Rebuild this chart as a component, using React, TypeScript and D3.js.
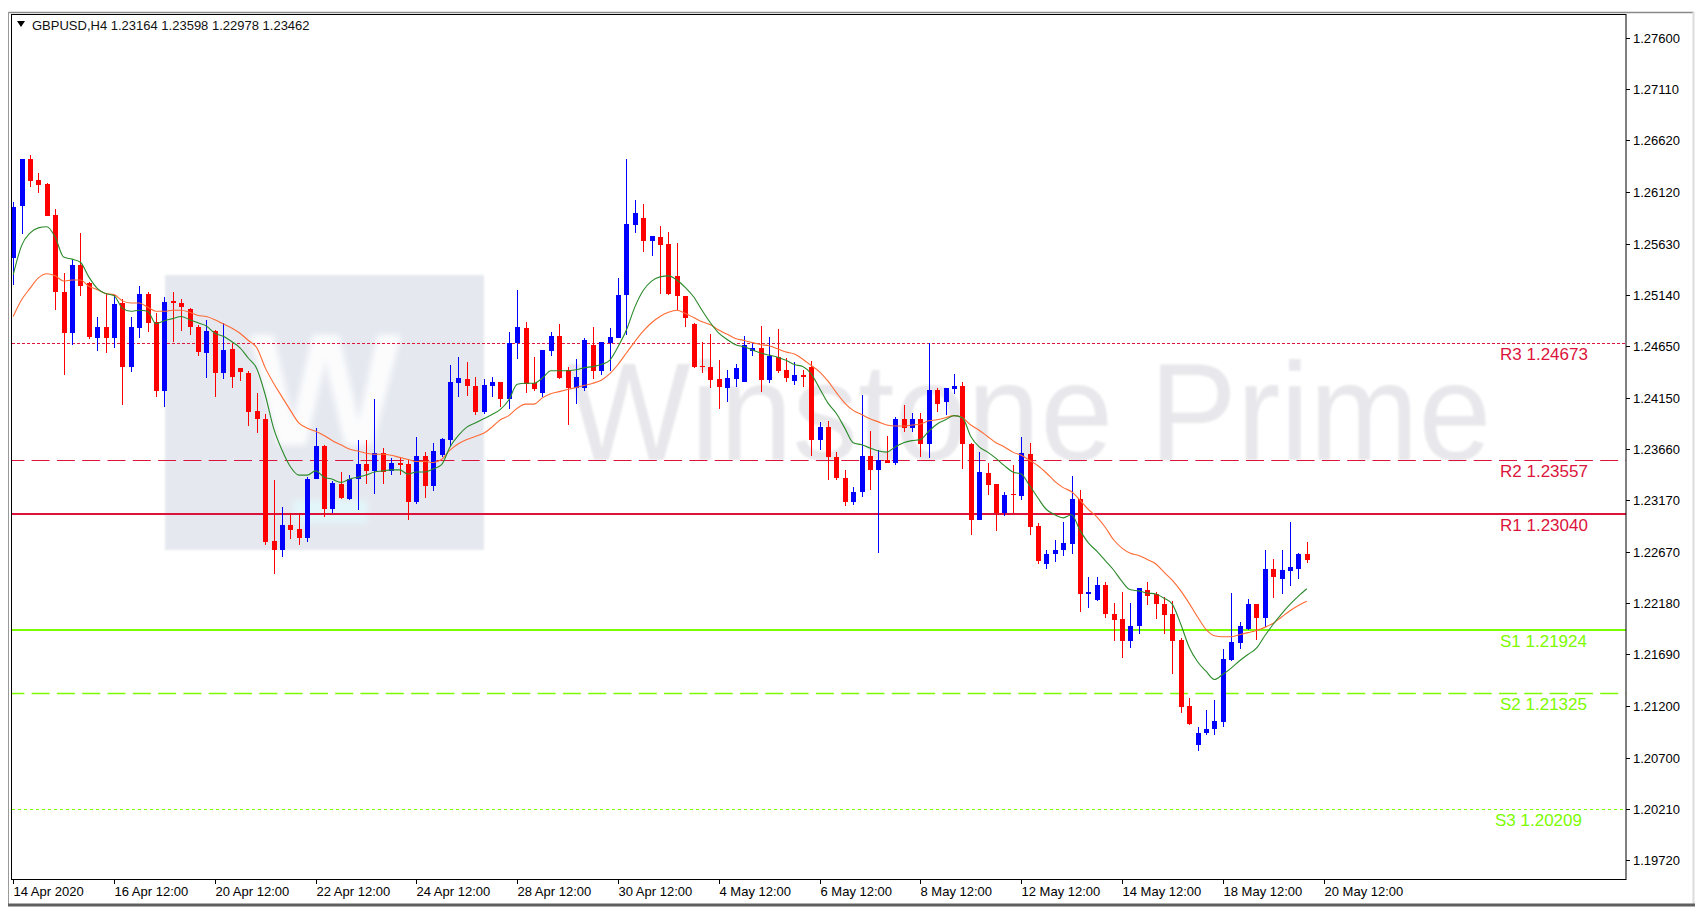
import React from 'react';
import * as d3 from 'd3';

// ---- data (GBPUSD H4) ----
const barOpen = [
1.25487,1.25988,1.26436,1.26238,1.26199,1.25902,1.25167,1.24768,1.25423,1.25247,
1.24720,1.24825,1.24720,1.25055,1.24447,1.24821,1.25142,1.24879,1.24217,1.25080,
1.25061,1.25001,1.24831,1.24582,1.24793,1.24384,1.24614,1.24432,1.24390,1.24025,
1.23943,1.22779,1.22690,1.22929,1.22891,1.22811,1.23377,1.23687,1.23089,1.23329,
1.23185,1.23377,1.23514,1.23447,1.23617,1.23450,1.23527,1.23514,1.23153,1.23594,
1.23303,1.23607,1.23744,1.24294,1.24329,1.24262,1.24016,1.24262,1.24304,1.24144,
1.24678,1.24816,1.24294,1.24198,1.24601,1.24745,1.24416,1.24240,1.24240,1.24655,
1.24409,1.24678,1.24720,1.25135,1.25806,1.25876,1.25656,1.25694,1.25624,1.25317,
1.25125,1.24857,1.24454,1.24447,1.24327,1.24240,1.24327,1.24304,1.24601,1.24624,
1.24320,1.24543,1.24422,1.24313,1.24368,1.24447,1.23744,1.23872,1.23584,1.23383,
1.23153,1.23243,1.23591,1.23457,1.23559,1.23521,1.23943,1.23857,1.23943,1.23706,
1.24224,1.24112,1.24231,1.24262,1.23706,1.22984,1.23431,1.23322,1.23047,1.23227,
1.23207,1.23610,1.22920,1.22555,1.22658,1.22690,1.22754,1.23176,1.22268,1.22210,
1.22354,1.22083,1.22035,1.21820,1.21961,1.22313,1.22268,1.22172,1.22076,1.21826,
1.21193,1.20819,1.20941,1.20976,1.21043,1.21641,1.21801,1.21939,1.22178,1.22040,
1.22507,1.22418,1.22491,1.22514,1.22658];

const barHigh = [
1.26030,1.26436,1.26478,1.26308,1.26206,1.25957,1.25349,1.25471,1.25732,1.25263,
1.24921,1.25145,1.25135,1.25094,1.24927,1.25221,1.25167,1.24960,1.25119,1.25167,
1.25094,1.25007,1.24847,1.24895,1.24799,1.24869,1.24665,1.24438,1.24406,1.24195,
1.23991,1.23361,1.23102,1.23042,1.23042,1.23392,1.23866,1.23696,1.23354,1.23440,
1.23409,1.23751,1.23751,1.24144,1.23665,1.23569,1.23584,1.23553,1.23776,1.23632,
1.23719,1.23770,1.24464,1.24545,1.24495,1.24349,1.24332,1.24351,1.24304,1.24783,
1.25183,1.24879,1.24538,1.24608,1.24777,1.24857,1.24447,1.24518,1.24720,1.24825,
1.24687,1.24816,1.25295,1.26436,1.26046,1.26008,1.25701,1.25797,1.25742,1.25631,
1.25125,1.24869,1.24687,1.24761,1.24512,1.24422,1.24473,1.24742,1.24687,1.24838,
1.24735,1.24806,1.24528,1.24495,1.24416,1.24505,1.23920,1.23933,1.23632,1.23462,
1.23297,1.24176,1.23834,1.23649,1.23783,1.23968,1.24080,1.24001,1.24001,1.24672,
1.24240,1.24240,1.24377,1.24304,1.23719,1.23632,1.23521,1.23322,1.23249,1.23505,
1.23776,1.23719,1.22946,1.22696,1.22785,1.22961,1.23404,1.23265,1.22433,1.22433,
1.22386,1.22184,1.22290,1.22184,1.22328,1.22386,1.22290,1.22242,1.22203,1.21852,
1.21277,1.20995,1.21155,1.21258,1.21747,1.22280,1.22002,1.22226,1.22178,1.22690,
1.22610,1.22696,1.22961,1.22667,1.22769];

const barLow = [
1.25231,1.25717,1.26174,1.26110,1.25890,1.24991,1.24368,1.24655,1.25128,1.24713,
1.24601,1.24576,1.24633,1.24080,1.24399,1.24720,1.24783,1.24160,1.24064,1.24687,
1.24793,1.24751,1.24550,1.24336,1.24160,1.24327,1.24240,1.24313,1.23882,1.23814,
1.22737,1.22466,1.22622,1.22802,1.22737,1.22769,1.23368,1.23009,1.23047,1.23185,
1.23169,1.23073,1.23329,1.23233,1.23329,1.23409,1.23409,1.22984,1.23137,1.23195,
1.23255,1.23584,1.23680,1.24154,1.24166,1.23989,1.23994,1.24160,1.24064,1.24039,
1.24518,1.24198,1.24217,1.24160,1.24550,1.24327,1.23888,1.24090,1.24217,1.24327,
1.24368,1.24409,1.24720,1.24751,1.25732,1.25544,1.25509,1.25145,1.25135,1.24991,
1.24825,1.24432,1.24390,1.24240,1.24048,1.24112,1.24250,1.24304,1.24550,1.24208,
1.24294,1.24390,1.24304,1.24272,1.24250,1.23591,1.23649,1.23361,1.23361,1.23109,
1.23121,1.23201,1.23265,1.22664,1.23521,1.23505,1.23824,1.23824,1.23584,1.23569,
1.24016,1.23984,1.24186,1.23473,1.22833,1.22984,1.23217,1.22875,1.23016,1.23047,
1.23169,1.22833,1.22555,1.22514,1.22577,1.22632,1.22658,1.22098,1.22140,1.22203,
1.22044,1.21820,1.21661,1.21756,1.21884,1.22162,1.22035,1.21884,1.21507,1.21129,
1.21011,1.20765,1.20915,1.20915,1.20995,1.21628,1.21747,1.21929,1.21833,1.21954,
1.22236,1.22268,1.22344,1.22409,1.22568];

const barClose = [
1.25982,1.26436,1.26231,1.26190,1.25895,1.25167,1.24768,1.25423,1.25224,1.24729,
1.24825,1.24720,1.25049,1.24447,1.24825,1.25142,1.24869,1.24217,1.25065,1.25055,
1.25023,1.24825,1.24591,1.24793,1.24384,1.24608,1.24351,1.24394,1.24016,1.23943,
1.22769,1.22690,1.22929,1.22881,1.22811,1.23377,1.23687,1.23089,1.23335,1.23195,
1.23377,1.23514,1.23447,1.23617,1.23444,1.23521,1.23511,1.23153,1.23594,1.23303,
1.23642,1.23754,1.24304,1.24336,1.24262,1.24016,1.24275,1.24304,1.24144,1.24678,
1.24828,1.24281,1.24231,1.24608,1.24745,1.24336,1.24240,1.24346,1.24703,1.24409,
1.24687,1.24729,1.25135,1.25813,1.25919,1.25656,1.25701,1.25614,1.25145,1.25125,
1.24912,1.24442,1.24442,1.24320,1.24250,1.24336,1.24438,1.24655,1.24624,1.24320,
1.24550,1.24409,1.24336,1.24368,1.24351,1.23744,1.23872,1.23584,1.23383,1.23153,
1.23249,1.23591,1.23457,1.23559,1.23527,1.23943,1.23857,1.23943,1.23706,1.24224,
1.24096,1.24240,1.24262,1.23706,1.22984,1.23440,1.23313,1.23047,1.23217,1.23217,
1.23617,1.22913,1.22587,1.22658,1.22696,1.22760,1.23176,1.22268,1.22290,1.22354,
1.22083,1.22025,1.21820,1.21961,1.22328,1.22248,1.22172,1.22066,1.21820,1.21187,
1.21021,1.20937,1.20980,1.21050,1.21644,1.21810,1.21961,1.22178,1.22040,1.22507,
1.22433,1.22498,1.22529,1.22658,1.22600];

// moving averages
const maFast = [
1.2533,1.2561,1.2573,1.2578,1.2579,1.2569,1.2550,1.2548,1.2545,1.2531,
1.2520,1.2515,1.2513,1.2501,1.2498,1.2499,1.2498,1.2486,1.2489,1.2491,
1.2493,1.2490,1.2487,1.2484,1.2477,1.2474,1.2469,1.2463,1.2453,1.2443,
1.2418,1.2386,1.2365,1.2349,1.2341,1.2341,1.2345,1.2339,1.2337,1.2334,
1.2337,1.2339,1.2341,1.2344,1.2345,1.2346,1.2346,1.2342,1.2344,1.2344,
1.2347,1.2351,1.2368,1.2379,1.2387,1.2391,1.2395,1.2399,1.2404,1.2413,
1.2428,1.2429,1.2429,1.2434,1.2441,1.2441,1.2441,1.2442,1.2444,1.2445,
1.2447,1.2451,1.2464,1.2480,1.2502,1.2518,1.2527,1.2531,1.2532,1.2528,
1.2521,1.2512,1.2499,1.2487,1.2477,1.2471,1.2466,1.2464,1.2461,1.2458,
1.2456,1.2454,1.2451,1.2447,1.2445,1.2438,1.2424,1.2410,1.2400,1.2386,
1.2372,1.2370,1.2367,1.2364,1.2363,1.2368,1.2372,1.2374,1.2375,1.2383,
1.2390,1.2394,1.2398,1.2396,1.2378,1.2368,1.2363,1.2357,1.2350,1.2344,
1.2342,1.2331,1.2319,1.2308,1.2303,1.2300,1.2303,1.2288,1.2276,1.2268,
1.2259,1.2250,1.2239,1.2231,1.2230,1.2228,1.2227,1.2223,1.2217,1.2198,
1.2176,1.2162,1.2153,1.2145,1.2150,1.2156,1.2163,1.2169,1.2175,1.2187,
1.2198,1.2208,1.2217,1.2225,1.2232];

const maSlow = [
1.2493,1.2509,1.2520,1.2530,1.2534,1.2532,1.2527,1.2528,1.2528,1.2522,
1.2519,1.2515,1.2514,1.2508,1.2506,1.2506,1.2502,1.2498,1.2498,1.2499,
1.2499,1.2497,1.2494,1.2493,1.2490,1.2486,1.2482,1.2477,1.2470,1.2463,
1.2444,1.2429,1.2416,1.2403,1.2391,1.2386,1.2383,1.2379,1.2374,1.2370,
1.2366,1.2364,1.2362,1.2361,1.2361,1.2360,1.2358,1.2356,1.2354,1.2354,
1.2353,1.2356,1.2365,1.2371,1.2375,1.2378,1.2381,1.2387,1.2394,1.2398,
1.2405,1.2409,1.2409,1.2415,1.2419,1.2421,1.2423,1.2425,1.2427,1.2429,
1.2432,1.2438,1.2447,1.2458,1.2469,1.2479,1.2487,1.2493,1.2497,1.2499,
1.2496,1.2492,1.2488,1.2485,1.2480,1.2476,1.2472,1.2470,1.2468,1.2466,
1.2465,1.2462,1.2459,1.2457,1.2452,1.2446,1.2440,1.2431,1.2420,1.2410,
1.2403,1.2399,1.2395,1.2392,1.2389,1.2388,1.2388,1.2389,1.2390,1.2393,
1.2394,1.2396,1.2398,1.2396,1.2389,1.2384,1.2378,1.2372,1.2368,1.2363,
1.2360,1.2355,1.2350,1.2343,1.2335,1.2329,1.2325,1.2317,1.2308,1.2301,
1.2291,1.2279,1.2271,1.2266,1.2264,1.2260,1.2256,1.2248,1.2240,1.2230,
1.2218,1.2205,1.2193,1.2187,1.2186,1.2186,1.2188,1.2190,1.2192,1.2195,
1.2199,1.2205,1.2211,1.2216,1.2220];

const priceTicks = ['1.27600','1.27110','1.26620','1.26120','1.25630','1.25140','1.24650','1.24150',
  '1.23660','1.23170','1.22670','1.22180','1.21690','1.21200','1.20700','1.20210','1.19720'];

const timeLabels = ['14 Apr 2020','16 Apr 12:00','20 Apr 12:00','22 Apr 12:00','24 Apr 12:00','28 Apr 12:00',
  '30 Apr 12:00','4 May 12:00','6 May 12:00','8 May 12:00','12 May 12:00','14 May 12:00','18 May 12:00','20 May 12:00'];
const timeLabelBars = [0,12,24,36,48,60,72,84,96,108,120,132,144,156];

const levelNames = ['R3','R2','R1','S1','S2','S3'];
const levelValues = [1.24673,1.23557,1.23040,1.21924,1.21325,1.20209];

const titleText = 'GBPUSD,H4  1.23164 1.23598 1.22978 1.23462';
const watermarkText = 'Winstone Prime';

export default function App() {
  const W = 1705, H = 920;
  const pl = 12, pt = 15, pr = 1626, pb = 879;
  const x = d3.scaleLinear().domain([0, 156]).range([13.2, 13.2 + 8.4 * 156]);
  const y = d3.scaleLinear().domain([1.1972, 1.276]).range([860, 38]);

  const line = d3.line<number>().x((_, i) => x(i)).y(d => y(d)).curve(d3.curveMonotoneX);

  const RED = '#ff0000', BLUE = '#0000ff';
  const CRIMSON = '#dc143c', LGREEN = '#7cfc00';
  const levelStyle: Record<string, { color: string; dash?: string; w: number }> = {
    R3: { color: CRIMSON, dash: '3,2', w: 1 },
    R2: { color: CRIMSON, dash: '18,7.3', w: 1 },
    R1: { color: CRIMSON, w: 2 },
    S1: { color: LGREEN, w: 2 },
    S2: { color: LGREEN, dash: '18,7.3', w: 1.3 },
    S3: { color: LGREEN, dash: '3,3', w: 1 },
  };

  const font = '"Liberation Sans", Arial, sans-serif';

  return (
    <svg width={W} height={H} viewBox={`0 0 ${W} ${H}`}
      style={{ position: 'absolute', left: 0, top: 0, background: '#fff' }}
      fontFamily={font}>
      <defs>
        <clipPath id="plotClip">
          <rect x={pl} y={pt} width={pr - pl} height={pb - pt} />
        </clipPath>
        <filter id="blur1" x="-10%" y="-10%" width="120%" height="120%">
          <feGaussianBlur stdDeviation="1.2" />
        </filter>
        <filter id="blur3" x="-20%" y="-20%" width="140%" height="140%">
          <feGaussianBlur stdDeviation="3" />
        </filter>
      </defs>
      <rect x={0} y={0} width={W} height={H} fill="#fff" />

      {/* outer window frame */}
      <line x1={8.5} y1={12.5} x2={1694} y2={12.5} stroke="#8a8a8a" strokeWidth={1.5} />
      <line x1={8.5} y1={12} x2={8.5} y2={906} stroke="#9a9a9a" strokeWidth={1} />
      <line x1={1693.5} y1={12} x2={1693.5} y2={906} stroke="#dcdcdc" strokeWidth={2} />
      <line x1={8} y1={905} x2={1695} y2={905} stroke="#5e5e5e" strokeWidth={3} />

      <g clipPath="url(#plotClip)">
        {/* watermark */}
        <g filter="url(#blur1)">
          <rect x={165} y={275} width={319} height={275} fill="#e5e8ef" />
        </g>
        <text x={250} y={445} fontSize={160} fontWeight="bold" fill="#ffffff" opacity={0.9}
          filter="url(#blur3)" fontFamily={font}>W</text>
        <rect x={293} y={500} width={74} height={23} fill="#e3f6fa" filter="url(#blur3)" />
        <g transform="translate(567,460) scale(1,1.06)">
          <text x={0} y={0} fontSize={131} fill="#e8e8ec" filter="url(#blur1)">{watermarkText}</text>
        </g>

        {/* pivot levels */}
        {levelNames.map((n, k) => {
          const st = levelStyle[n];
          const yy = Math.round(y(levelValues[k])) + (st.w === 2 ? 0 : 0.5);
          return (
            <line key={n} x1={pl} x2={pr} y1={yy} y2={yy} stroke={st.color}
              strokeWidth={st.w} strokeDasharray={st.dash} strokeDashoffset={st.dash && st.dash.startsWith('18') ? 5.7 : 0} />
          );
        })}

        {/* candles */}
        {barOpen.map((o, i) => {
          const c = barClose[i], h = barHigh[i], l = barLow[i];
          const col = c >= o ? BLUE : RED;
          const cx = Math.round(x(i));
          const yTop = Math.round(y(Math.max(o, c)));
          const yBot = Math.round(y(Math.min(o, c)));
          const yh = Math.round(y(h)), yl = Math.round(y(l));
          return (
            <g key={i}>
              <rect x={cx} y={yh} width={1} height={Math.max(1, yl - yh)} fill={col} />
              <rect x={cx - 2} y={yTop} width={5} height={Math.max(1, yBot - yTop)} fill={col} />
            </g>
          );
        })}

        {/* moving averages */}
        <path d={line(maSlow) || ''} fill="none" stroke="#ff6a33" strokeWidth={1.1} />
        <path d={line(maFast) || ''} fill="none" stroke="#2a8a2a" strokeWidth={1.1} />

        {/* level labels */}
        {levelNames.map((n, k) => {
          const st = levelStyle[n];
          return (
            <text key={n} x={n === 'S3' ? 1495 : 1500} y={y(levelValues[k]) + 17} fontSize={17}
              fill={st.color}>{`${n} ${levelValues[k].toFixed(5)}`}</text>
          );
        })}
      </g>

      {/* plot frame */}
      <rect x={11.5} y={14.5} width={pr - 11.5} height={pb - 14.5 + 0.5} fill="none" stroke="#000" strokeWidth={1} />

      {/* title */}
      <polygon points="17,21 25,21 21,27" fill="#000" />
      <text x={32} y={30} fontSize={13} fill="#111">{titleText}</text>

      {/* price axis */}
      {priceTicks.map(t => {
        const yy = Math.round(y(+t)) + 0.5;
        return (
          <g key={t}>
            <line x1={pr} x2={pr + 4} y1={yy} y2={yy} stroke="#000" />
            <text x={1633} y={yy + 4.5} fontSize={13} fill="#000">{t}</text>
          </g>
        );
      })}

      {/* time axis */}
      {timeLabels.map((t, k) => {
        const xx = Math.round(x(timeLabelBars[k])) + 0.5;
        return (
          <g key={t}>
            <line x1={xx} x2={xx} y1={pb} y2={pb + 5} stroke="#000" />
            <text x={xx} y={896} fontSize={13} fill="#000">{t}</text>
          </g>
        );
      })}
    </svg>
  );
}
